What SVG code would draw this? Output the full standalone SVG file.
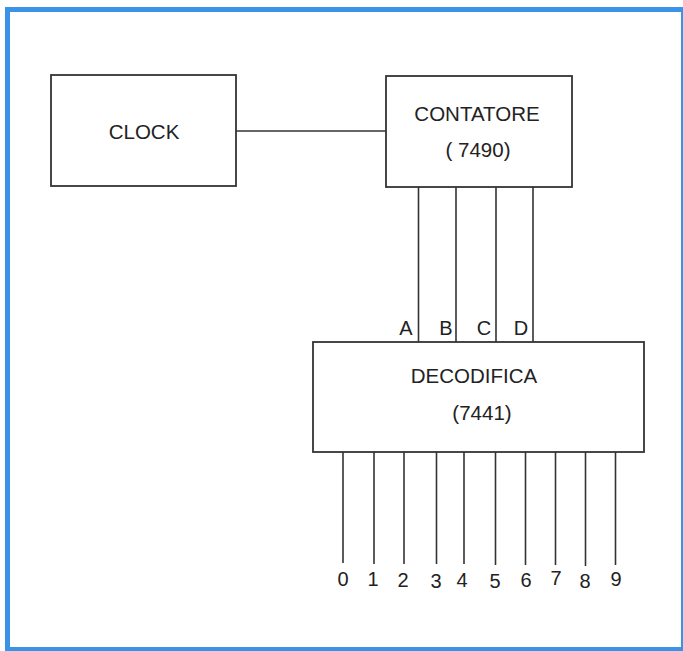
<svg xmlns="http://www.w3.org/2000/svg" width="683" height="651" viewBox="0 0 683 651">
<style>
.box{fill:#fff;stroke:#333;stroke-width:1.8}
.wire{stroke:#333;stroke-width:1.6;fill:none}
text{font-family:"Liberation Sans",Arial,sans-serif;fill:#222;text-anchor:middle}
.lbl{font-size:20.5px}
.pin{font-size:20px}
</style>
<rect x="0" y="0" width="683" height="651" fill="#fff"/>
<rect x="7.5" y="9.5" width="676" height="640" fill="none" stroke="#3a93e6" stroke-width="5"/>
<g id="connectors">
<line class="wire" x1="236" y1="131" x2="386" y2="131"/>
<line class="wire" x1="418.5" y1="187" x2="418.5" y2="342"/>
<line class="wire" x1="456" y1="187" x2="456" y2="342"/>
<line class="wire" x1="496" y1="187" x2="496" y2="342"/>
<line class="wire" x1="533" y1="187" x2="533" y2="342"/>
<line class="wire" x1="343" y1="452" x2="343" y2="563"/>
<line class="wire" x1="374" y1="452" x2="374" y2="564"/>
<line class="wire" x1="404" y1="452" x2="404" y2="564"/>
<line class="wire" x1="436.5" y1="452" x2="436.5" y2="564"/>
<line class="wire" x1="464" y1="452" x2="464" y2="564"/>
<line class="wire" x1="495.5" y1="452" x2="495.5" y2="565"/>
<line class="wire" x1="525.5" y1="452" x2="525.5" y2="565"/>
<line class="wire" x1="555.5" y1="452" x2="555.5" y2="565"/>
<line class="wire" x1="585.5" y1="452" x2="585.5" y2="566"/>
<line class="wire" x1="615.5" y1="452" x2="615.5" y2="565"/>
</g>
<g id="clock">
<rect class="box" x="51" y="75" width="185" height="111"/>
<text class="lbl" x="144" y="139">CLOCK</text>
</g>
<g id="contatore">
<rect class="box" x="386" y="76" width="186" height="111"/>
<text class="lbl" x="477" y="121">CONTATORE</text>
<text class="lbl" x="478" y="157">( 7490)</text>
</g>
<g id="decodifica">
<rect class="box" x="313" y="342" width="331" height="110"/>
<text class="lbl" x="474" y="383">DECODIFICA</text>
<text class="lbl" x="482" y="420">(7441)</text>
</g>
<g id="inputs">
<text class="pin" x="406" y="335">A</text>
<text class="pin" x="446" y="335">B</text>
<text class="pin" x="484" y="335">C</text>
<text class="pin" x="521" y="335">D</text>
</g>
<g id="outputs">
<text class="pin" x="343" y="586">0</text>
<text class="pin" x="373" y="586">1</text>
<text class="pin" x="403" y="587">2</text>
<text class="pin" x="436" y="588">3</text>
<text class="pin" x="462" y="587">4</text>
<text class="pin" x="495" y="588">5</text>
<text class="pin" x="526" y="587">6</text>
<text class="pin" x="556" y="585">7</text>
<text class="pin" x="585" y="588">8</text>
<text class="pin" x="616" y="586">9</text>
</g>
</svg>
